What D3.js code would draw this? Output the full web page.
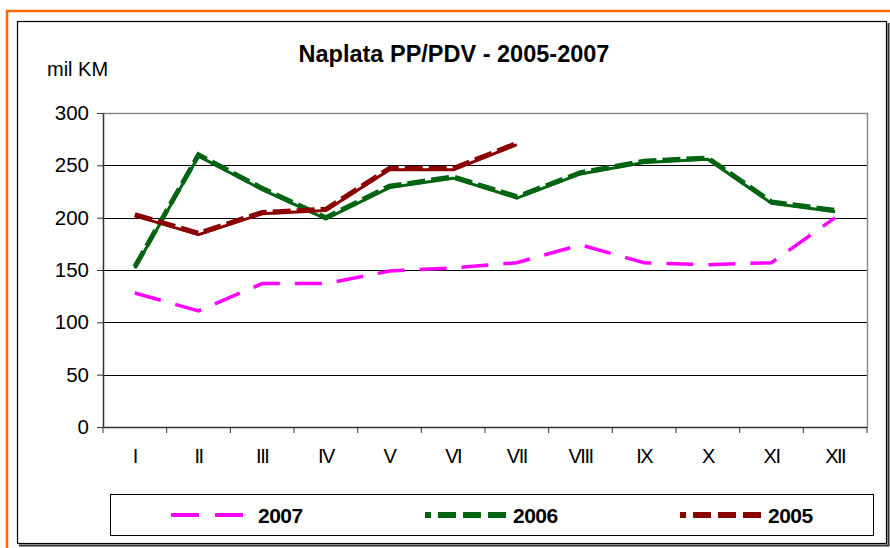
<!DOCTYPE html>
<html>
<head>
<meta charset="utf-8">
<script src="https://cdn.jsdelivr.net/npm/d3@7"></script>
<style>
  body { margin: 0; background: #fff; }
  svg { display: block; font-family: "Liberation Sans", Arial, sans-serif; }
</style>
</head>
<body>
<svg id="chart" width="890" height="548"></svg>
<script>
const months = ["I", "II", "III", "IV", "V", "VI", "VII", "VIII", "IX", "X", "XI", "XII"];
const values2007 = [128, 111, 137, 137, 149, 152, 157, 174, 157, 155, 157, 200];
const values2006 = [153, 260, 228, 200, 230, 239, 220, 243, 254, 257, 215, 207];
const values2005 = [203, 185, 205, 208, 247, 247, 271];
const yTicks = [0, 50, 100, 150, 200, 250, 300];

const series = [
  { name: "2007", values: values2007, color: "#FF00FF", style: "long" },
  { name: "2006", values: values2006, color: "#006411", style: "square" },
  { name: "2005", values: values2005, color: "#8B0000", style: "square" },
];

const width = 890;
const height = 548;
const plot = { left: 103, right: 867, top: 113, bottom: 427 };

const svg = d3.select("#chart");

// outer frame
svg.append("path")
  .attr("d", `M7,${height + 5}V11H${width + 5}`)
  .attr("fill", "none")
  .attr("stroke", "#FF6A00")
  .attr("stroke-width", 2.5);

svg.append("rect")
  .attr("x", 17.5).attr("y", 21.5)
  .attr("width", 869).attr("height", 522)
  .attr("fill", "#fff")
  .attr("stroke", "#000")
  .attr("stroke-width", 1.2);
svg.append("path")
  .attr("d", "M888.5,23V545.5H19")
  .attr("fill", "none")
  .attr("stroke", "#333")
  .attr("stroke-width", 2);

// title
svg.append("text")
  .attr("x", 454).attr("y", 62)
  .attr("text-anchor", "middle")
  .attr("font-weight", "bold")
  .attr("font-size", 23.5)
  .text("Naplata PP/PDV - 2005-2007");

svg.append("text")
  .attr("x", 47).attr("y", 76)
  .attr("font-size", 20)
  .text("mil KM");

const x = d3.scaleBand().domain(months).range([plot.left, plot.right]);
const y = d3.scaleLinear().domain([0, 300]).range([plot.bottom, plot.top]);

// gridlines
svg.append("g")
  .selectAll("line")
  .data(yTicks.filter((d) => d > 0 && d < 300))
  .join("line")
  .attr("x1", plot.left).attr("x2", plot.right)
  .attr("y1", (d) => Math.round(y(d)) + 0.5)
  .attr("y2", (d) => Math.round(y(d)) + 0.5)
  .attr("stroke", "#000")
  .attr("stroke-width", 1);

// plot area border (top/right)
svg.append("path")
  .attr("d", `M${plot.left},${plot.top + 0.5}H${plot.right + 0.5}V${plot.bottom}`)
  .attr("fill", "none")
  .attr("stroke", "#8c8c8c")
  .attr("stroke-width", 1.5);

// y axis
const yAxis = svg.append("g")
  .attr("transform", `translate(${plot.left},0)`)
  .call(d3.axisLeft(y).tickValues(yTicks).tickSize(6).tickPadding(8).tickSizeOuter(0));
yAxis.select(".domain").attr("stroke", "#333").attr("stroke-width", 1.5);
yAxis.selectAll(".tick line").attr("stroke", "#333");
yAxis.selectAll(".tick text")
  .attr("font-size", 20.5)
  .attr("font-family", "Liberation Sans, Arial, sans-serif")
  .attr("fill", "#000");

// x axis
const xAxis = svg.append("g")
  .attr("transform", `translate(0,${plot.bottom})`)
  .call(d3.axisBottom(x).tickSize(0).tickPadding(22));
xAxis.select(".domain").attr("stroke", "#333").attr("stroke-width", 1.5);
xAxis.selectAll(".tick text")
  .attr("font-size", 20)
  .attr("letter-spacing", -1.5)
  .attr("font-family", "Liberation Sans, Arial, sans-serif")
  .attr("fill", "#000");
xAxis.append("g")
  .selectAll("line")
  .data(d3.range(months.length + 1))
  .join("line")
  .attr("x1", (i) => plot.left + i * x.step())
  .attr("x2", (i) => plot.left + i * x.step())
  .attr("y1", 0).attr("y2", 6)
  .attr("stroke", "#333");

// lines
const line = d3.line()
  .x((d, i) => x(months[i]) + x.bandwidth() / 2)
  .y((d) => y(d));

function drawSeries(g, s, pathD) {
  if (s.style === "long") {
    g.append("path")
      .attr("d", pathD)
      .attr("fill", "none")
      .attr("stroke", s.color)
      .attr("stroke-width", 3.5)
      .attr("stroke-dasharray", "27,15");
  } else {
    g.append("path")
      .attr("d", pathD)
      .attr("transform", "translate(0,1.3)")
      .attr("fill", "none")
      .attr("stroke", s.color)
      .attr("stroke-width", 3)
      .attr("stroke-linejoin", "round");
    g.append("path")
      .attr("d", pathD)
      .attr("fill", "none")
      .attr("stroke", s.color)
      .attr("stroke-width", 5)
      .attr("stroke-dasharray", "18,6");
  }
}

const linesG = svg.append("g");
series.forEach((s) => {
  drawSeries(linesG.append("g"), s, line(s.values));
});

// legend
svg.append("rect")
  .attr("x", 110.5).attr("y", 494.5)
  .attr("width", 763).attr("height", 41)
  .attr("fill", "#fff")
  .attr("stroke", "#000")
  .attr("stroke-width", 1);

const legendX = [171, 425, 680];
series.forEach((s, i) => {
  const g = svg.append("g").attr("transform", `translate(${legendX[i]},515)`);
  if (s.style === "long") {
    g.append("line")
      .attr("x1", 0).attr("x2", 73)
      .attr("stroke", s.color)
      .attr("stroke-width", 4)
      .attr("stroke-dasharray", "28,16");
  } else {
    g.append("line")
      .attr("x1", 0).attr("x2", 81)
      .attr("stroke", s.color)
      .attr("stroke-width", 6)
      .attr("stroke-dasharray", "6,7,18,7,18,7,18");
  }
  g.append("text")
    .attr("x", s.style === "long" ? 87 : 88)
    .attr("y", 8)
    .attr("font-weight", "bold")
    .attr("font-size", 21)
    .attr("letter-spacing", -0.5)
    .text(s.name);
});
</script>
</body>
</html>
